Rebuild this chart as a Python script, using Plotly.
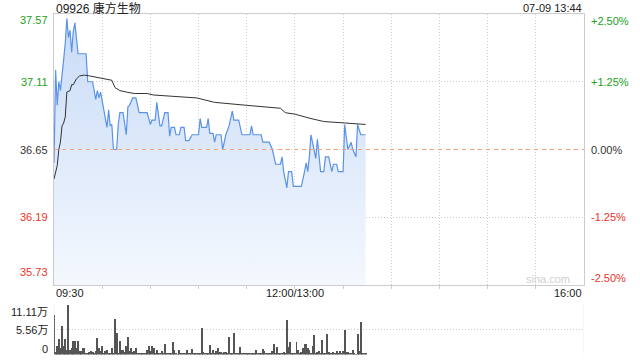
import plotly.graph_objects as go

# ---------------- data ----------------
title_text = "09926 康方生物"
stamp_text = "07-09 13:44"
watermark = "sina.com"
prev_close = 36.65

price_ticks = [37.57, 37.11, 36.65, 36.19, 35.73]
price_tick_text = ["37.57", "37.11", "36.65", "36.19", "35.73"]
pct_tick_text = ["+2.50%", "+1.25%", "0.00%", "-1.25%", "-2.50%"]
tick_colors = ["#22a022", "#22a022", "#333333", "#e8352a", "#e8352a"]

time_grid = [30, 60, 90, 120, 150, 180, 210, 240, 270, 300]
time_labels = ["09:30", "12:00/13:00", "16:00"]
time_label_pos = [0, 150, 330]

vol_ticks = [11.11, 5.56, 0]
vol_tick_text = ["11.11万", "5.56万", "0"]

price_minutes = [0, 1, 2, 3, 4, 5, 6, 7, 8, 9, 10, 11, 12, 13, 14, 15, 20, 21, 24, 26,
                 27, 28, 29, 31, 32, 33, 34, 35, 36, 37, 39, 40, 41, 43, 45, 46, 47, 49, 51, 53,
                 58, 60, 61, 63, 64, 66, 67, 69, 71, 72, 73, 75, 76, 78, 79, 81, 82, 84, 86, 90,
                 91, 92, 95, 96, 97, 99, 100, 101, 104, 105, 107, 109, 111, 112, 115, 117, 122, 123, 124, 129,
                 130, 134, 136, 138, 141, 142, 143, 145, 146, 148, 149, 154, 156, 157, 158, 159, 160, 162, 163, 164,
                 166, 168, 169, 171, 173, 174, 176, 177, 180, 181, 183, 185, 186, 188, 189, 191, 194]
price_values = [36.56, 37.19, 36.95, 37.11, 37.05, 37.14, 37.26, 37.37, 37.54, 37.41, 37.46, 37.31, 37.45, 37.51, 37.39, 37.30, 37.30, 37.11, 37.11, 36.99,
                37.05, 37.00, 37.04, 36.93, 36.87, 36.80, 36.92, 36.81, 36.82, 36.65, 36.65, 36.82, 36.90, 36.90, 36.75, 36.94, 36.95, 37.00, 37.00, 36.90,
                36.90, 36.82, 36.85, 36.85, 36.97, 36.81, 36.81, 36.90, 36.90, 36.74, 36.80, 36.80, 36.75, 36.75, 36.80, 36.80, 36.71, 36.71, 36.75, 36.75,
                36.86, 36.80, 36.80, 36.86, 36.76, 36.76, 36.70, 36.75, 36.75, 36.65, 36.75, 36.81, 36.91, 36.85, 36.85, 36.75, 36.75, 36.81, 36.75, 36.75,
                36.70, 36.70, 36.65, 36.55, 36.55, 36.60, 36.50, 36.39, 36.50, 36.50, 36.40, 36.40, 36.50, 36.56, 36.50, 36.60, 36.75, 36.65, 36.59, 36.72,
                36.50, 36.50, 36.60, 36.60, 36.50, 36.55, 36.55, 36.50, 36.50, 36.82, 36.65, 36.70, 36.65, 36.60, 36.82, 36.75, 36.75]

avg_minutes = [0, 2, 3, 4, 5, 6, 7, 8, 10, 11, 12, 14, 16, 19, 22, 26, 31, 36, 38, 41,
               45, 50, 58, 62, 89, 100, 120, 141, 144, 150, 160, 168, 181, 194]
avg_values = [36.45, 36.54, 36.65, 36.70, 36.81, 36.83, 36.87, 37.04, 37.05, 37.09, 37.09, 37.13, 37.15, 37.155, 37.15, 37.14, 37.13, 37.12, 37.07, 37.05,
              37.04, 37.03, 37.03, 37.02, 37.00, 36.97, 36.95, 36.93, 36.90, 36.89, 36.86, 36.84, 36.83, 36.82]

volume_wan = [8.9, 0.5, 2.0, 3.4, 1.5, 6.4, 1.9, 3.4, 1.1, 11.1, 1.1, 1.5, 3.0, 3.0, 1.5, 3.0, 0.8, 0.8, 1.5, 1.5,
              0.4, 0.3, 0.5, 0.8, 0.5, 0.4, 0.8, 3.8, 1.5, 0.8, 2.0, 0.4, 0.8, 1.1, 0.2, 0.3, 1.5, 0.3, 7.9, 4.9,
              0.4, 3.0, 1.1, 1.1, 0.5, 1.9, 4.0, 0.8, 1.5, 0.5, 0.8, 1.5, 0.2, 0.3, 0.2, 0.2, 0.2, 0.2, 1.1, 1.9,
              0.8, 2.0, 1.5, 0.4, 0.9, 0.4, 0.3, 0.8, 0.2, 2.4, 0.4, 0.2, 0.2, 0.3, 2.8, 1.0, 0.2, 0.1, 1.0, 0.2,
              0.2, 0.2, 0.3, 1.0, 0.2, 0.4, 1.3, 0.4, 0.2, 0.2, 0.2, 0.2, 5.9, 0.5, 0.4, 0.2, 0.4, 2.1, 0.2, 1.0,
              0.4, 0.8, 1.4, 0.5, 0.5, 0.4, 0.5, 0.5, 0.2, 4.0, 0.2, 0.2, 4.9, 0.2, 0.4, 0.4, 1.7, 0.4, 0.2, 0.4,
              0.2, 0.4, 0.2, 0.4, 0.2, 0.4, 1.0, 0.2, 0.2, 0.2, 1.3, 0.8, 0.4, 0.2, 0.4, 0.4, 0.8, 2.3, 0.4, 1.7,
              0.2, 0.2, 0.2, 0.5, 0.4, 7.8, 1.7, 2.8, 0.2, 0.2, 0.2, 2.8, 1.0, 0.4, 0.5, 1.5, 2.3, 2.3, 1.4, 1.1,
              0.2, 2.0, 4.3, 0.4, 0.5, 0.8, 0.4, 3.2, 0.4, 0.2, 4.7, 0.5, 0.2, 0.2, 0.5, 0.4, 0.8, 0.2, 0.8, 0.2,
              0.8, 5.5, 0.5, 0.5, 0.2, 0.2, 1.1, 0.2, 0.1, 4.5, 0.8, 7.2, 0.4, 0.2, 0.2]
volume_minutes = list(range(len(volume_wan)))

# ---------------- layout constants ----------------
W, H = 640, 360
L, R = 54, 584
MAIN_TOP, MAIN_BOT = 14, 285
VOL_TOP, VOL_BOT = 305, 354.5
FONT = "Liberation Sans, Arial, Noto Sans CJK SC, sans-serif"
GRID = "#cccccc"

def px(x):
    return x / W

def py(y):
    return 1 - y / H

y_hi = price_ticks[0]
y_lo = price_ticks[-1]

fig = go.Figure()

fig.add_trace(go.Scatter(
    x=price_minutes, y=price_values, mode="lines",
    line=dict(color="#5a93e8", width=1.2),
    fill="tozeroy",
    fillgradient=dict(type="vertical",
                      colorscale=[[0, "rgba(244,248,254,1)"], [1, "rgba(200,219,247,1)"]],
                      start=y_lo, stop=y_hi),
    xaxis="x", yaxis="y", hoverinfo="skip", showlegend=False))

fig.add_trace(go.Scatter(
    x=avg_minutes, y=avg_values, mode="lines",
    line=dict(color="#333333", width=1),
    xaxis="x", yaxis="y", hoverinfo="skip", showlegend=False))

fig.add_trace(go.Bar(
    x=volume_minutes, y=volume_wan, width=0.6,
    marker=dict(color="#555555", line=dict(width=0)),
    xaxis="x2", yaxis="y2", hoverinfo="skip", showlegend=False))

annotations = []
# title + timestamp
annotations.append(dict(text=title_text, x=px(L), y=py(8), xref="paper", yref="paper",
                        xanchor="left", yanchor="middle", showarrow=False,
                        font=dict(size=12, color="#222222", family=FONT)))
annotations.append(dict(text=stamp_text, x=px(R), y=py(8), xref="paper", yref="paper",
                        xanchor="right", yanchor="middle", showarrow=False,
                        font=dict(size=11, color="#222222", family=FONT)))
# price tick labels (left) and percent labels (right)
left_shift = [-6, 0, 0, 0, 13]
right_shift = [-7, 0, 0, 0, 7]
for v, t, p, c, ls, rs in zip(price_ticks, price_tick_text, pct_tick_text, tick_colors, left_shift, right_shift):
    annotations.append(dict(text=t, x=px(L - 4), y=v, xref="paper", yref="y",
                            xanchor="right", yanchor="middle", yshift=ls, showarrow=False,
                            font=dict(size=11, color=c, family=FONT)))
    annotations.append(dict(text=p, x=px(R + 5), y=v, xref="paper", yref="y",
                            xanchor="left", yanchor="middle", yshift=rs, showarrow=False,
                            font=dict(size=11, color=c, family=FONT)))
# time labels
anchors = ["left", "center", "right"]
for t, pos, a in zip(time_labels, time_label_pos, anchors):
    annotations.append(dict(text=t, x=pos, y=py(293), xref="x", yref="paper",
                            xanchor=a, yanchor="middle", showarrow=False,
                            font=dict(size=11, color="#222222", family=FONT)))
# volume labels
vol_shift = [-7, 0, 6]
for v, t, s in zip(vol_ticks, vol_tick_text, vol_shift):
    annotations.append(dict(text=t, x=px(L - 4), y=v, xref="paper", yref="y2",
                            xanchor="right", yanchor="middle", yshift=s, showarrow=False,
                            font=dict(size=11, color="#222222", family=FONT)))
# watermark
annotations.append(dict(text=watermark, x=px(R - 12), y=py(279), xref="paper", yref="paper",
                        xanchor="right", yanchor="middle", showarrow=False,
                        font=dict(size=11, color="#d0d0d0", family=FONT)))

shapes = [
    dict(type="line", xref="x", yref="y", x0=0, x1=330, y0=prev_close, y1=prev_close,
         line=dict(color="#f0a47c", width=1, dash="4px,4px"), layer="above"),
    dict(type="line", xref="x2", yref="y2", x0=0, x1=0, y0=0, y1=vol_ticks[0],
         line=dict(color=GRID, width=1, dash="1px,2px")),
    dict(type="line", xref="x2", yref="y2", x0=330, x1=330, y0=0, y1=vol_ticks[0],
         line=dict(color=GRID, width=1, dash="1px,2px")),
]

fig.update_layout(
    width=W, height=H,
    margin=dict(l=0, r=0, t=0, b=0),
    paper_bgcolor="white", plot_bgcolor="white",
    showlegend=False,
    annotations=annotations,
    shapes=shapes,
    xaxis=dict(domain=[px(L), px(R)], range=[0, 330], tickvals=time_grid,
               showticklabels=False, ticks="outside", ticklen=3, tickcolor=GRID,
               showgrid=True, gridcolor=GRID, griddash="1px,2px", gridwidth=1,
               showline=True, linecolor=GRID, linewidth=1, mirror=True,
               zeroline=False, fixedrange=True),
    yaxis=dict(domain=[py(MAIN_BOT), py(MAIN_TOP)], range=[y_lo, y_hi],
               tickvals=price_ticks[1:-1], showticklabels=False, ticks="",
               showgrid=True, gridcolor=GRID, griddash="1px,2px", gridwidth=1,
               showline=True, linecolor=GRID, linewidth=1, mirror=True,
               zeroline=False, fixedrange=True),
    xaxis2=dict(domain=[px(L), px(R)], range=[0, 330], anchor="y2",
                showticklabels=False, ticks="", showgrid=False, showline=False,
                zeroline=False, fixedrange=True),
    yaxis2=dict(domain=[py(VOL_BOT), py(VOL_TOP)], range=[0, vol_ticks[0]], anchor="x2",
                tickvals=vol_ticks[:2], showticklabels=False, ticks="",
                showgrid=True, gridcolor=GRID, griddash="1px,2px", gridwidth=1,
                showline=False, zeroline=False, fixedrange=True),
    bargap=0,
)

fig.write_html("out.html", config={"displayModeBar": False})
